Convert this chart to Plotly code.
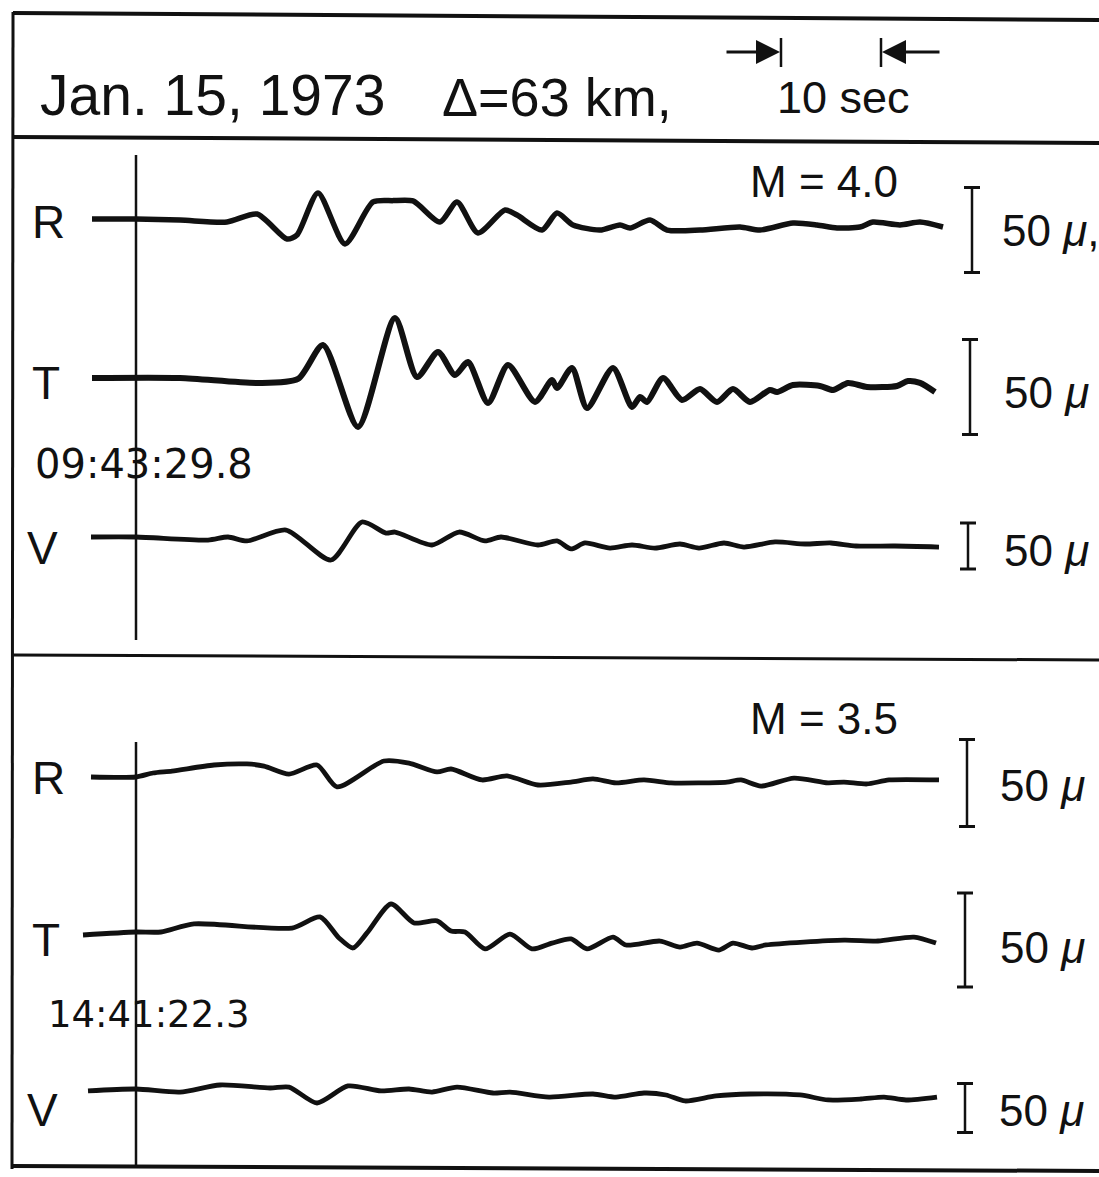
import plotly.graph_objects as go

# ---------------- data (time in s after origin line, amplitude in microns) -------------
R40_T = [-4.4, 0, 4.4, 9.1, 12.1, 15.1, 16.1, 18.2, 20.9, 23.7, 25.7, 27.7, 30.4, 32.1, 34.2,
         36.9, 38.1, 40.6, 42.1, 43.7, 46.4, 48.4, 49.4, 51.4, 53.1, 56.4, 60.4, 62.4, 65.7,
         68.1, 70.1, 72.4, 73.7, 76.4, 78.4, 80.7]
R40_A = [0.6, 0.6, 0, -1.2, 3.5, -11.2, -8.8, 15.9, -14.1, 10.6, 11.4, 11.2, -1.2, 10.6, -7.6,
         5.9, 2.9, -5.9, 4.1, -2.9, -5.9, -2.9, -4.7, 0, -5.9, -5.9, -4.1, -5.9, -1.8,
         -2.9, -4.7, -4.1, -1.2, -2.9, -1.2, -4.1]

T40_T = [-4.4, 4.4, 12.1, 16.2, 18.7, 22.2, 25.9, 28.1, 30.2, 31.9, 33.2, 35.2, 37.2, 39.9,
         41.6, 42.1, 43.6, 45.1, 47.7, 49.6, 50.4, 51.1, 52.7, 54.6, 56.4, 58.1, 59.7, 61.4,
         63.4, 64.1, 65.7, 68.4, 69.7, 71.2, 73.1, 76.1, 77.2, 78.4, 79.9]
T40_A = [0, 0, -2.6, -0.5, 17.4, -25.8, 31.6, 0.5, 13.7, 1.6, 8.4, -13.2, 6.8, -12.6,
         -1.1, -5.3, 5.3, -15.8, 5.3, -15.3, -10.0, -12.6, 0, -11.6, -5.8, -12.6, -5.8, -12.6,
         -6.3, -7.4, -3.7, -4.2, -6.3, -2.6, -4.7, -4.2, -1.6, -2.6, -7.4]

V40_T = [-4.5, 0, 7.2, 9.2, 11.1, 15.0, 19.5, 22.6, 25.0, 25.9, 29.6, 32.3, 34.9, 36.5, 40.2,
         42.1, 43.5, 44.9, 47.4, 49.6, 51.9, 54.4, 56.3, 58.8, 60.8, 63.9, 66.9, 69.5, 72.0,
         75.9, 80.3]
V40_A = [0, 0, -3.3, 0, -4.3, 7.6, -25, 16.3, 4.3, 5.4, -8.7, 5.4, -4.3, 0, -8.7,
         -4.3, -13, -6.5, -12, -8.7, -12, -7.6, -12, -6.5, -10.9, -5.4, -7.6, -6.5, -9.8,
         -9.8, -10.9]

R35_T = [-4.5, 0, 1.7, 3.6, 7.8, 11.1, 12.8, 15.3, 18.1, 20.1, 24.8, 27.3, 30.1, 31.5, 34.6,
         37.1, 40.2, 43.5, 45.7, 48.0, 50.8, 53.5, 56.3, 59.1, 60.5, 62.5, 65.8, 69.2, 70.8,
         73.1, 75.3, 80.3]
R35_A = [0, 0, 2.3, 3.4, 6.9, 7.5, 6.3, 1.7, 6.9, -5.7, 9.2, 8.0, 2.9, 4.6, -1.7,
         0.6, -4.6, -2.9, -1.1, -3.4, -1.7, -3.4, -3.4, -2.9, -1.7, -5.2, -0.6, -3.4, -2.9,
         -4.0, -1.7, -1.7]

T35_T = [-5.3, 0, 2.5, 5.8, 15.6, 18.4, 20.3, 21.7, 23.1, 25.5, 27.8, 30.1, 31.5, 32.9, 34.9,
         37.4, 39.6, 41.6, 43.5, 45.1, 47.7, 49.0, 52.4, 54.4, 56.1, 58.3, 59.7, 61.6, 63.0,
         70.8, 74.2, 77.8, 80.0]
T35_A = [-1.6, 0, 0, 4.3, 2.1, 8.0, -3.2, -8.5, -0.5, 14.9, 4.8, 5.9, 0.5, 0, -9.0,
         -1.1, -9.0, -5.9, -3.7, -9.0, -2.7, -6.9, -4.8, -8.0, -5.9, -9.6, -5.9, -8.5, -6.9,
         -4.3, -4.8, -2.7, -5.9]

V35_T = [-4.8, 0, 4.4, 8.4, 13.4, 15.3, 18.1, 21.2, 24.5, 27.3, 29.6, 32.1, 35.7, 37.4, 41.3,
         45.7, 48.0, 50.8, 53.0, 54.9, 58.0, 61.4, 66.4, 69.2, 72.5, 74.8, 77.0, 80.1]
V35_A = [-2.0, 0, -3.1, 4.1, 1.0, 2.0, -14.3, 3.1, -2.0, 0, -3.1, 2.0, -4.1, -3.1, -8.2,
         -5.1, -8.2, -4.1, -6.1, -12.2, -7.1, -5.1, -6.1, -11.2, -10.2, -8.2, -11.2, -8.2]

COMPONENTS = ["R", "T", "V", "R", "T", "V"]
SCALE_MICRONS = 50
MAGNITUDES = ["M = 4.0", "M = 3.5"]
ORIGIN_TIMES = ["09:43:29.8", "14:41:22.3"]
TITLE_DATE = "Jan. 15, 1973"
TITLE_DIST = "Δ=63 km,"
TIME_BAR_S = 10

SERIES = [(R40_T, R40_A), (T40_T, T40_A), (V40_T, V40_A),
          (R35_T, R35_A), (T35_T, T35_A), (V35_T, V35_A)]

# ---------------- layout / styling -------------
W, H = 1099, 1177
PX_PER_S = 10.0
T0_PX = 136.0
BLACK = "#111111"
FONT = "Liberation Sans, Arial, sans-serif"
FONT_WIDE = "DejaVu Sans, Liberation Sans, sans-serif"

# per channel: baseline pixel, px per micron, line width, scale-bar centre px, bar x px, label px
CH = [
    dict(base=220, k=1.70, lw=5.5, bar_c=230, bar_x=972, lab=(30, 222), s50=(1000, 230), comma=True),
    dict(base=378, k=1.90, lw=6.0, bar_c=387, bar_x=970, lab=(30, 383), s50=(1002, 392), comma=False),
    dict(base=537, k=0.92, lw=4.8, bar_c=546, bar_x=968, lab=(25, 548), s50=(1002, 550), comma=False),
    dict(base=777, k=1.74, lw=4.8, bar_c=783, bar_x=967, lab=(30, 778), s50=(998, 785), comma=False),
    dict(base=932, k=1.88, lw=4.8, bar_c=940, bar_x=965, lab=(30, 940), s50=(998, 947), comma=False),
    dict(base=1089, k=0.98, lw=4.8, bar_c=1108, bar_x=965, lab=(25, 1110), s50=(997, 1110), comma=False),
]


def px2t(px):
    return (px - T0_PX) / PX_PER_S


def P(px, py):
    return px / W, 1 - py / H


fig = go.Figure()
layout_axes = {}
for i, ((ts, amps), ch) in enumerate(zip(SERIES, CH)):
    yname = "y" if i == 0 else f"y{i + 1}"
    axkey = "yaxis" if i == 0 else f"yaxis{i + 1}"
    ax = dict(domain=[0, 1], range=[(ch["base"] - H) / ch["k"], ch["base"] / ch["k"]],
              visible=False, fixedrange=True)
    if i:
        ax["overlaying"] = "y"
    layout_axes[axkey] = ax
    fig.add_trace(go.Scatter(x=ts, y=amps, yaxis=yname, mode="lines",
                             line=dict(color=BLACK, width=ch["lw"], shape="spline", smoothing=0.7),
                             hoverinfo="skip", showlegend=False))
    # 50 micron scale bar
    c = (ch["base"] - ch["bar_c"]) / ch["k"]
    bx = px2t(ch["bar_x"])
    half = SCALE_MICRONS / 2
    cap = 0.8
    fig.add_trace(go.Scatter(x=[bx, bx], y=[c - half, c + half], yaxis=yname, mode="lines",
                             line=dict(color=BLACK, width=2.5), hoverinfo="skip", showlegend=False))
    fig.add_trace(go.Scatter(x=[bx - cap, bx + cap, None, bx - cap, bx + cap],
                             y=[c + half, c + half, None, c - half, c - half], yaxis=yname,
                             mode="lines", line=dict(color=BLACK, width=3),
                             hoverinfo="skip", showlegend=False))

fig.update_layout(**layout_axes)
fig.update_layout(
    width=W, height=H, margin=dict(l=0, r=0, t=0, b=0),
    paper_bgcolor="white", plot_bgcolor="white", showlegend=False,
    xaxis=dict(range=[px2t(0), px2t(W)], visible=False, fixedrange=True),
)

shapes = []


def pline(x0, y0, x1, y1, w):
    shapes.append(dict(type="line", xref="paper", yref="paper",
                       x0=x0 / W, y0=1 - y0 / H, x1=x1 / W, y1=1 - y1 / H,
                       line=dict(color=BLACK, width=w)))


# frame
pline(13, 13, 1099, 20, 4)
pline(13, 12, 12, 1169, 3)
pline(13, 137, 1099, 143, 4)
pline(13, 655, 1099, 660, 3)
pline(12, 1166, 1099, 1171, 4)

# origin-time vertical lines
for y0, y1 in [(155, 640), (742, 1168)]:
    shapes.append(dict(type="line", xref="x", yref="paper", x0=0, x1=0,
                       y0=1 - y0 / H, y1=1 - y1 / H, line=dict(color=BLACK, width=2.5)))

# 10-sec bar ticks
tb0 = px2t(781)
tb1 = tb0 + TIME_BAR_S
for tx in (tb0, tb1):
    shapes.append(dict(type="line", xref="x", yref="paper", x0=tx, x1=tx,
                       y0=1 - 38 / H, y1=1 - 67 / H, line=dict(color=BLACK, width=2.5)))

fig.update_layout(shapes=shapes)

ann = []


def text(s, px, py, size, anchor="left", family=FONT):
    x, y = P(px, py)
    ann.append(dict(text=s, x=x, y=y, xref="paper", yref="paper", xanchor=anchor,
                    yanchor="middle", showarrow=False,
                    font=dict(family=family, size=size, color=BLACK)))


text(TITLE_DATE, 38, 95, 57)
text(TITLE_DIST, 440, 97, 54)
text(f"{TIME_BAR_S} sec", 775, 97, 45)
text(MAGNITUDES[0], 748, 182, 44)
text(MAGNITUDES[1], 748, 718, 44)
text(ORIGIN_TIMES[0], 33, 464, 40, family=FONT_WIDE)
text(ORIGIN_TIMES[1], 46, 1014, 37, family=FONT_WIDE)
for comp, ch in zip(COMPONENTS, CH):
    text(comp, ch["lab"][0], ch["lab"][1], 46)
    label = f"{SCALE_MICRONS} <i>μ</i>" + ("," if ch["comma"] else "")
    text(label, ch["s50"][0], ch["s50"][1], 44)

# arrows of the 10-sec bar
ya = 1 - 52 / H
ann.append(dict(x=tb0, y=ya, xref="x", yref="paper", ax=-56, ay=0, axref="pixel", ayref="pixel",
                text="", showarrow=True, arrowhead=2, arrowsize=1.6, arrowwidth=3,
                arrowcolor=BLACK, standoff=1))
ann.append(dict(x=tb1, y=ya, xref="x", yref="paper", ax=60, ay=0, axref="pixel", ayref="pixel",
                text="", showarrow=True, arrowhead=2, arrowsize=1.6, arrowwidth=3,
                arrowcolor=BLACK, standoff=1))

fig.update_layout(annotations=ann)
fig.write_html("out.html")
